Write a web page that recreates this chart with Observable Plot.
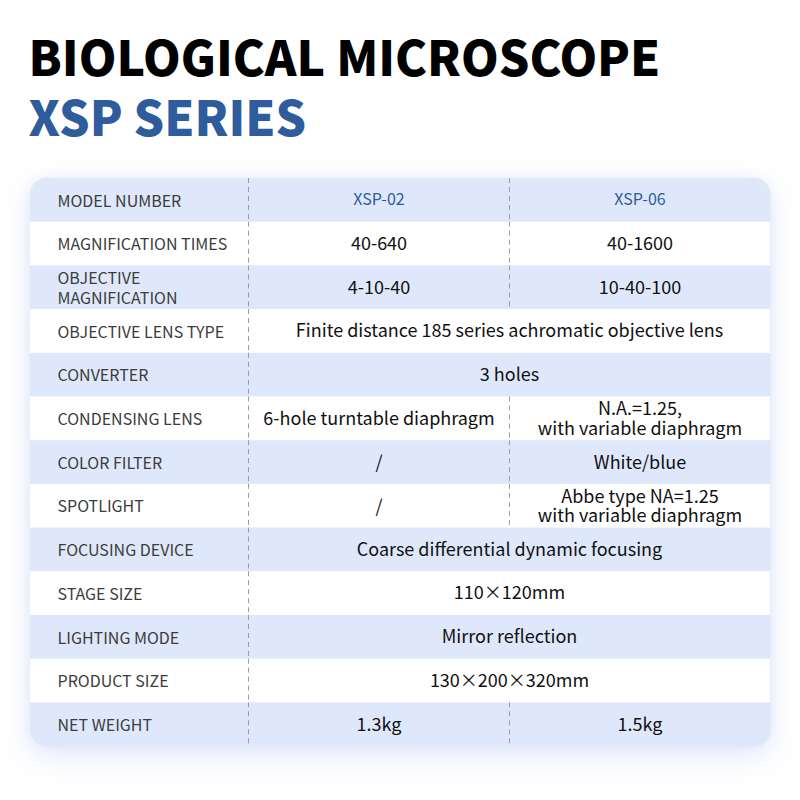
<!DOCTYPE html>
<html>
<head>
<meta charset="utf-8">
<script src="https://cdn.jsdelivr.net/npm/d3@7"></script>
<script src="https://cdn.jsdelivr.net/npm/@observablehq/plot@0.6"></script>
<style>
  html, body { margin: 0; padding: 0; background: #ffffff; }
  #chart { position: relative; width: 800px; height: 800px; }
  #chart svg { position: absolute; left: 0; top: 0; font-family: "Noto Sans CJK SC", "Noto Sans", sans-serif; }
  #shadow { position: absolute; border-radius: 16px; background: #dfe8fb; box-shadow: 0 10px 30px rgba(80,120,230,0.16), 0 0 12px rgba(80,120,230,0.08); }
</style>
</head>
<body>
<div id="chart"><div id="shadow"></div></div>
<script>
// ---- data ----
const titleLine1 = "BIOLOGICAL MICROSCOPE";
const titleLine2 = "XSP SERIES";
const rowLabels = [
  "MODEL NUMBER",
  "MAGNIFICATION TIMES",
  "OBJECTIVE\nMAGNIFICATION",
  "OBJECTIVE LENS TYPE",
  "CONVERTER",
  "CONDENSING LENS",
  "COLOR FILTER",
  "SPOTLIGHT",
  "FOCUSING DEVICE",
  "STAGE SIZE",
  "LIGHTING MODE",
  "PRODUCT SIZE",
  "NET WEIGHT"
];
const xsp02 = [
  "XSP-02",
  "40-640",
  "4-10-40",
  "Finite distance 185 series achromatic objective lens",
  "3 holes",
  "6-hole turntable diaphragm",
  "/",
  "/",
  "Coarse differential dynamic focusing",
  "110×120mm",
  "Mirror reflection",
  "130×200×320mm",
  "1.3kg"
];
const xsp06 = [
  "XSP-06",
  "40-1600",
  "10-40-100",
  "Finite distance 185 series achromatic objective lens",
  "3 holes",
  "N.A.=1.25,\nwith variable diaphragm",
  "White/blue",
  "Abbe type NA=1.25\nwith variable diaphragm",
  "Coarse differential dynamic focusing",
  "110×120mm",
  "Mirror reflection",
  "130×200×320mm",
  "1.5kg"
];

// ---- table rows built from the arrays ----
const rows = rowLabels.map((label, i) => ({
  label,
  a: xsp02[i],
  b: xsp06[i],
  merged: xsp02[i] === xsp06[i],
  header: i === 0,
  shaded: i % 2 === 0
}));

// column layout (in x-scale units)
const colLabelX = 27, col1 = 218, col2 = 479, colEnd = 740;
const midA = (col1 + col2) / 2, midB = (col2 + colEnd) / 2, midAB = (col1 + colEnd) / 2;

const blue = "#dfe8fb";
const font = "Noto Sans CJK SC";
const dash = {stroke: "#9c9c9c", strokeWidth: 1, strokeDasharray: "5,4"};

const plot = Plot.plot({
  width: 800,
  height: 800,
  marginTop: 178,
  marginBottom: 54,
  marginLeft: 30,
  marginRight: 30,
  x: {type: "linear", domain: [0, colEnd], axis: null},
  y: {type: "band", domain: rowLabels, padding: 0, round: false, axis: null},
  style: {fontFamily: font, background: "transparent", overflow: "visible"},
  marks: [
    Plot.frame({fill: blue, stroke: null, rx: 16}),
    Plot.barX(rows.filter(d => !d.shaded), {x1: 0, x2: colEnd, y: "label", fill: "#ffffff"}),
    Plot.tickX(rows, {x: col1, y: "label", ...dash}),
    Plot.tickX(rows.filter(d => !d.merged), {x: col2, y: "label", ...dash}),
    // row labels
    Plot.text(rows, {x: colLabelX, y: "label", text: "label", textAnchor: "start", fontSize: 16, fill: "#3c3c3c", lineHeight: 1.22}),
    // header values
    Plot.text(rows.filter(d => d.header), {x: midA, y: "label", text: "a", fontSize: 16, fill: "#2f5b9b"}),
    Plot.text(rows.filter(d => d.header), {x: midB, y: "label", text: "b", fontSize: 16, fill: "#2f5b9b"}),
    // split values
    Plot.text(rows.filter(d => !d.header && !d.merged), {x: midA, y: "label", text: "a", fontSize: 18, fill: "#111111", lineHeight: 1.1}),
    Plot.text(rows.filter(d => !d.header && !d.merged), {x: midB, y: "label", text: "b", fontSize: 18, fill: "#111111", lineHeight: 1.1}),
    // merged values
    Plot.text(rows.filter(d => d.merged), {x: midAB, y: "label", text: "a", fontSize: 18, fill: "#111111"}),
    // titles
    Plot.text([titleLine1], {frameAnchor: "top-left", dx: -2, dy: -103, text: d => d, textAnchor: "start", lineAnchor: "bottom", fontSize: 48, fontWeight: 900, fill: "#000000"}),
    Plot.text([titleLine2], {frameAnchor: "top-left", dx: -2, dy: -43, text: d => d, textAnchor: "start", lineAnchor: "bottom", fontSize: 48, fontWeight: 900, fill: "#2e5c9c"})
  ]
});

// soft shadow behind the card, sized from the plot's scales
const xs = plot.scale("x"), ys = plot.scale("y");
const sh = document.getElementById("shadow");
sh.style.left = xs.range[0] + "px";
sh.style.top = ys.range[0] + "px";
sh.style.width = (xs.range[1] - xs.range[0]) + "px";
sh.style.height = (ys.range[1] - ys.range[0]) + "px";

document.getElementById("chart").appendChild(plot);
</script>
</body>
</html>
